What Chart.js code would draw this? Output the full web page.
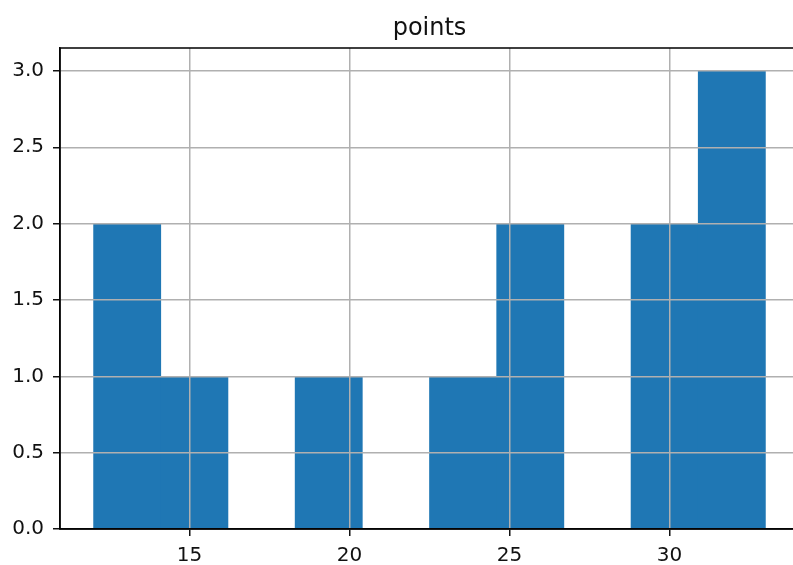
<!DOCTYPE html>
<html>
<head>
<meta charset="utf-8">
<script src="https://cdn.jsdelivr.net/npm/chart.js@4/dist/chart.umd.min.js"></script>
<style>
html, body { margin: 0; padding: 0; background: #fff; overflow: hidden; }
</style>
</head>
<body>
<canvas id="hist" width="810" height="565"></canvas>
<script>
// histogram of "points": 10 bins between 12 and 33
const binCenters = [13.05, 15.15, 17.25, 19.35, 21.45, 23.55, 25.65, 27.75, 29.85, 31.95];
const counts = [2, 1, 0, 1, 0, 1, 2, 0, 2, 3];
const xTicks = [15, 20, 25, 30];
const yTicks = [0, 0.5, 1, 1.5, 2, 2.5, 3];

const fontFamily = '"DejaVu Sans", sans-serif';

// matplotlib draws the full box, Chart.js only the axis sides
const framePlugin = {
    id: 'frame',
    afterDraw(chart) {
        const {ctx, chartArea} = chart;
        ctx.save();
        ctx.strokeStyle = '#000';
        ctx.lineWidth = 1.5;
        ctx.strokeRect(chartArea.left, chartArea.top, chartArea.right - chartArea.left, chartArea.bottom - chartArea.top);
        ctx.restore();
    }
};

new Chart(document.getElementById('hist'), {
    type: 'bar',
    data: {
        datasets: [{
            label: 'points',
            data: binCenters.map((x, i) => ({x: x, y: counts[i]})),
            backgroundColor: '#1f77b4',
            borderWidth: 0,
            barPercentage: 1,
            categoryPercentage: 1
        }]
    },
    options: {
        responsive: false,
        devicePixelRatio: 1,
        animation: false,
        layout: {padding: {left: 0, right: 11, top: 0, bottom: 0}},
        plugins: {
            legend: {display: false},
            tooltip: {enabled: false},
            title: {
                display: true,
                text: 'points',
                fullSize: false,
                color: '#111',
                font: {family: fontFamily, size: 24, weight: 'normal', lineHeight: 1.2},
                padding: {top: 14, bottom: 5.2}
            }
        },
        scales: {
            x: {
                type: 'linear',
                min: 10.95,
                max: 34.05,
                offset: false,
                afterBuildTicks: scale => { scale.ticks = xTicks.map(v => ({value: v})); },
                afterFit: scale => { scale.height = 36; },
                grid: {color: '#b0b0b0', lineWidth: 1.5, tickColor: '#111', tickLength: 7, tickWidth: 1.5, offset: false, z: 1},
                border: {color: '#111', width: 1.5, z: 2},
                ticks: {color: '#111', padding: 8, maxRotation: 0, font: {family: fontFamily, size: 20}}
            },
            y: {
                min: 0,
                max: 3.15,
                afterBuildTicks: scale => { scale.ticks = yTicks.map(v => ({value: v})); },
                afterFit: scale => { scale.width = 60; },
                grid: {color: '#b0b0b0', lineWidth: 1.5, tickColor: '#111', tickLength: 7, tickWidth: 1.5, z: 1},
                border: {color: '#111', width: 1.5, z: 2},
                ticks: {color: '#111', padding: 9, font: {family: fontFamily, size: 20}, callback: v => v.toFixed(1)}
            }
        }
    },
    plugins: [framePlugin]
});
</script>
</body>
</html>
